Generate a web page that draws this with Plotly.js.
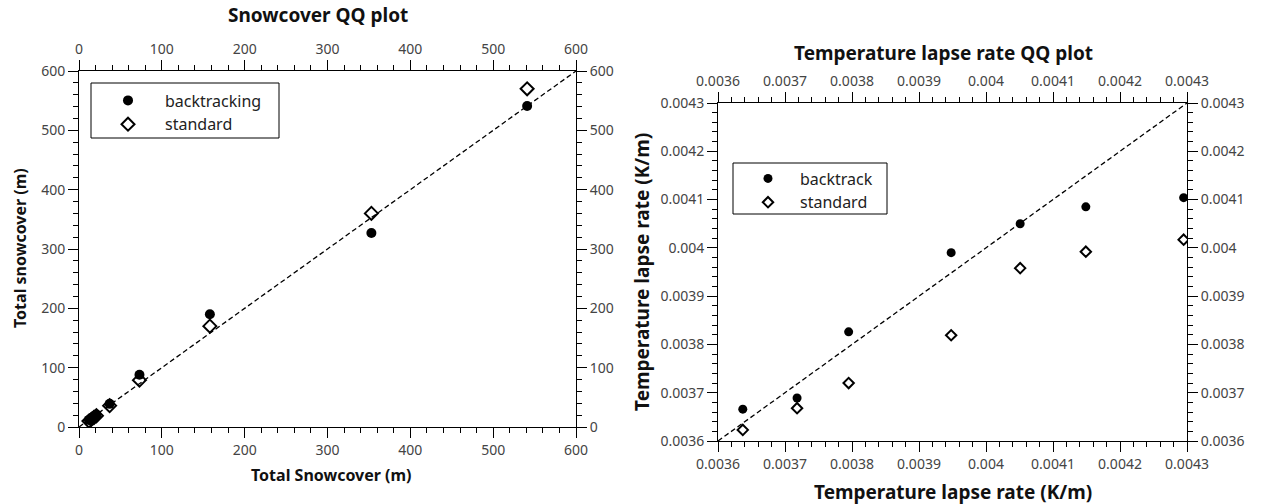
<!DOCTYPE html>
<html>
<head>
<meta charset="utf-8">
<script src="https://cdn.plot.ly/plotly-3.0.1.min.js"></script>
<style>html,body{margin:0;padding:0;background:#fff;}#chart{width:1265px;height:504px;}</style>
</head>
<body>
<div id="chart"></div>
<script>
// ---- Snowcover QQ data ----
const snowObserved = [12, 15, 18, 21, 37, 73, 158, 353, 541];
const snowBacktracking = [12, 15, 18, 21, 39, 88, 190, 327, 541];
const snowStandard = [10, 13, 16, 19, 36, 79, 170, 360, 570];
const snowDiagonal = [0, 600];

// ---- Temperature lapse rate QQ data ----
const lapseObserved = [0.003637, 0.003718, 0.003795, 0.003948, 0.004051, 0.004149, 0.004295];
const lapseBacktrack = [0.003666, 0.003689, 0.003826, 0.003990, 0.004050, 0.004085, 0.004104];
const lapseStandard = [0.003623, 0.003668, 0.003720, 0.003819, 0.003958, 0.003992, 0.004017];
const lapseDiagonal = [0.0036, 0.0043];

const titleLeft = 'Snowcover QQ plot';
const titleRight = 'Temperature lapse rate QQ plot';

const FONT = 'Noto Sans, Open Sans, DejaVu Sans, sans-serif';
const tickFont = {family: FONT, size: 14, color: '#444'};
const W = 1265, H = 504;
const px = v => v / W, py = v => 1 - v / H;

function axisBase(extra) {
  return Object.assign({
    showgrid: false, zeroline: false, showline: true, linecolor: 'black', linewidth: 1,
    ticks: 'outside', ticklen: 10, tickcolor: 'black', tickwidth: 1,
    tickfont: tickFont, automargin: false, mirror: false,
    minor: {ticks: 'outside', ticklen: 5, tickcolor: 'black', tickwidth: 1, showgrid: false}
  }, extra);
}

const snowAx = {range: [0, 600], tick0: 0, dtick: 100, tickmode: 'linear'};
const lapseAx = {range: [0.0036, 0.0043], tick0: 0.0036, dtick: 0.0001, tickmode: 'linear'};

const D1x = [px(79), px(576)], D1y = [py(427), py(71)];
const D2x = [px(718), px(1187)], D2y = [py(441), py(103)];

const traces = [
  {x: snowDiagonal, y: snowDiagonal, xaxis: 'x2', yaxis: 'y2', mode: 'lines', showlegend: false,
   line: {color: 'black', width: 1.3, dash: '5px,3px'}, hoverinfo: 'skip'},
  {x: snowObserved, y: snowBacktracking, xaxis: 'x', yaxis: 'y', mode: 'markers', name: 'backtracking',
   legend: 'legend', marker: {symbol: 'circle', size: 10, color: 'black'}},
  {x: snowObserved, y: snowStandard, xaxis: 'x', yaxis: 'y', mode: 'markers', name: 'standard',
   legend: 'legend', marker: {symbol: 'diamond-open', size: 10, color: 'black', line: {width: 2, color: 'black'}}},
  {x: lapseDiagonal, y: lapseDiagonal, xaxis: 'x4', yaxis: 'y4', mode: 'lines', showlegend: false,
   line: {color: 'black', width: 1.3, dash: '5px,3px'}, hoverinfo: 'skip'},
  {x: lapseObserved, y: lapseBacktrack, xaxis: 'x3', yaxis: 'y3', mode: 'markers', name: 'backtrack',
   legend: 'legend2', marker: {symbol: 'circle', size: 9, color: 'black'}},
  {x: lapseObserved, y: lapseStandard, xaxis: 'x3', yaxis: 'y3', mode: 'markers', name: 'standard',
   legend: 'legend2', marker: {symbol: 'diamond-open', size: 8, color: 'black', line: {width: 2, color: 'black'}}}
];

const legendBase = {
  bgcolor: 'rgba(0,0,0,0)', borderwidth: 0,
  font: {family: FONT, size: 16, color: '#222'}, xanchor: 'left', yanchor: 'top', tracegroupgap: 0
};

const boxStyle = {type: 'rect', xref: 'paper', yref: 'paper', line: {color: 'black', width: 1}, fillcolor: 'white', layer: 'above'};

const layout = {
  width: W, height: H,
  margin: {l: 0, r: 0, t: 0, b: 0},
  paper_bgcolor: 'white', plot_bgcolor: 'white',
  showlegend: true,
  xaxis: axisBase(Object.assign({domain: D1x, anchor: 'y', side: 'bottom'}, snowAx)),
  yaxis: axisBase(Object.assign({domain: D1y, anchor: 'x', side: 'left'}, snowAx)),
  xaxis2: axisBase(Object.assign({domain: D1x, anchor: 'y', side: 'top', overlaying: 'x'}, snowAx)),
  yaxis2: axisBase(Object.assign({domain: D1y, anchor: 'x', side: 'right', overlaying: 'y'}, snowAx)),
  xaxis3: axisBase(Object.assign({domain: D2x, anchor: 'y3', side: 'bottom'}, lapseAx)),
  yaxis3: axisBase(Object.assign({domain: D2y, anchor: 'x3', side: 'left'}, lapseAx)),
  xaxis4: axisBase(Object.assign({domain: D2x, anchor: 'y3', side: 'top', overlaying: 'x3'}, lapseAx)),
  yaxis4: axisBase(Object.assign({domain: D2y, anchor: 'x3', side: 'right', overlaying: 'y3'}, lapseAx)),
  legend: Object.assign({}, legendBase, {x: px(91), y: py(83.5), itemwidth: 64}),
  legend2: Object.assign({}, legendBase, {x: px(736), y: py(161.5), itemwidth: 54}),
  shapes: [
    Object.assign({}, boxStyle, {x0: px(91), x1: px(279), y0: py(138), y1: py(83)}),
    Object.assign({}, boxStyle, {x0: px(733), x1: px(887), y0: py(214), y1: py(163)})
  ],
  annotations: [
    {text: '<b>' + titleLeft + '</b>', xref: 'paper', yref: 'paper', x: px(318), y: py(15),
     showarrow: false, font: {family: FONT, size: 19, color: '#111'}, xanchor: 'center', yanchor: 'middle'},
    {text: '<b>' + titleRight + '</b>', xref: 'paper', yref: 'paper', x: px(943), y: py(53),
     showarrow: false, font: {family: FONT, size: 19, color: '#111'}, xanchor: 'center', yanchor: 'middle'},
    {text: '<b>Total Snowcover (m)</b>', xref: 'paper', yref: 'paper', x: px(331), y: py(475),
     showarrow: false, font: {family: FONT, size: 16, color: '#111'}, xanchor: 'center', yanchor: 'middle'},
    {text: '<b>Total snowcover (m)</b>', xref: 'paper', yref: 'paper', x: px(20), y: py(248),
     showarrow: false, textangle: -90, font: {family: FONT, size: 16, color: '#111'}, xanchor: 'center', yanchor: 'middle'},
    {text: '<b>Temperature lapse rate (K/m)</b>', xref: 'paper', yref: 'paper', x: px(953), y: py(492),
     showarrow: false, font: {family: FONT, size: 19, color: '#111'}, xanchor: 'center', yanchor: 'middle'},
    {text: '<b>Temperature lapse rate (K/m)</b>', xref: 'paper', yref: 'paper', x: px(642), y: py(272),
     showarrow: false, textangle: -90, font: {family: FONT, size: 19, color: '#111'}, xanchor: 'center', yanchor: 'middle'}
  ]
};

Plotly.newPlot('chart', traces, layout, {displayModeBar: false, staticPlot: true});
</script>
</body>
</html>
